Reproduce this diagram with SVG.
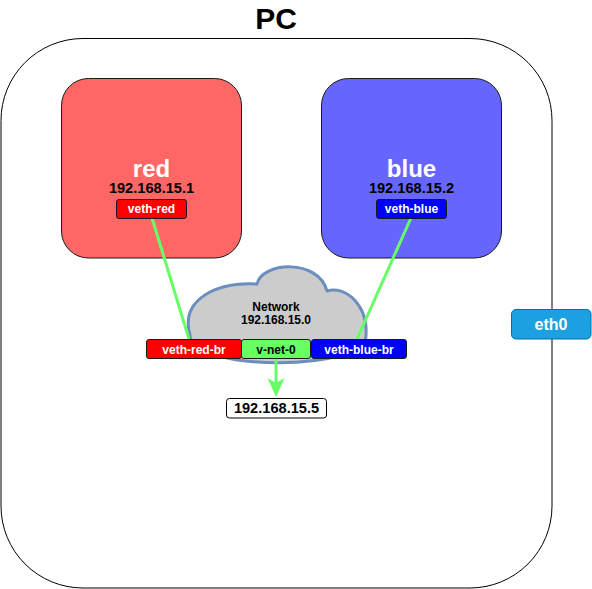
<svg xmlns="http://www.w3.org/2000/svg" width="592" height="589" viewBox="0 0 592 589">
<style>
text{font-family:"Liberation Sans",Arial,Helvetica,sans-serif;font-weight:bold;text-anchor:middle}
.w{fill:#ffffff}
.k{fill:#000000}
.lbl{stroke:#1a1a1a;stroke-width:1}
.wire{stroke:#66FF66;stroke-width:3;fill:none}
</style>
<defs>
<marker id="arr" viewBox="0 0 19 17" markerWidth="19" markerHeight="17" refX="10" refY="8.5" markerUnits="userSpaceOnUse" orient="auto">
<path d="M0,0 L19,8.5 L0,17 L5,8.5 Z" fill="#66FF66"/>
</marker>
</defs>
<rect width="592" height="589" fill="#ffffff"/>
<g id="pc">
<rect x="1" y="38.5" width="551" height="549.5" rx="82" ry="82" fill="#ffffff" stroke="#000000" stroke-width="1"/>
<text x="276" y="29" font-size="30" class="k">PC</text>
</g>
<g id="red">
<rect x="61.5" y="78.5" width="180" height="179.5" rx="27" ry="27" fill="#FF6666" stroke="#1a1a1a" stroke-width="1"/>
<text x="151.5" y="177" font-size="24" class="w">red</text>
<text x="151.5" y="193" font-size="14.6" class="k">192.168.15.1</text>
</g>
<g id="blue">
<rect x="321.5" y="78.5" width="180" height="179.5" rx="27" ry="27" fill="#6666FF" stroke="#1a1a1a" stroke-width="1"/>
<text x="411.5" y="177" font-size="24" class="w">blue</text>
<text x="411.5" y="193" font-size="14.6" class="k">192.168.15.2</text>
</g>
<g id="network">
<path d="M257,284 C262,262 318,258 327,291 C345,285 368,305 366,335 C368,372 190,372 190,335 C180,300 215,282 257,284 Z" fill="#CCCCCC" stroke="#6C8EBF" stroke-width="3" stroke-linejoin="round"/>
<text x="276" y="311" font-size="12" class="k">Network</text>
<text x="276" y="324" font-size="12" class="k">192.168.15.0</text>
</g>
<g id="connectors">
<line class="wire" x1="152" y1="218" x2="189" y2="339"/>
<line class="wire" x1="411" y1="218" x2="357" y2="339"/>
<line class="wire" x1="276" y1="358" x2="276" y2="388" marker-end="url(#arr)"/>
</g>
<g id="veth-red">
<rect x="116.5" y="199.5" width="70" height="19" rx="2.5" fill="#FF0000" class="lbl"/>
<text x="151.5" y="213" font-size="12" class="w">veth-red</text>
</g>
<g id="veth-blue">
<rect x="376.5" y="199.5" width="70" height="19" rx="2.5" fill="#0000FF" class="lbl"/>
<text x="411.5" y="213" font-size="12" class="w">veth-blue</text>
</g>
<g id="veth-red-br">
<rect x="146.5" y="339.5" width="95" height="19" rx="2.5" fill="#FF0000" class="lbl"/>
<text x="194" y="353.5" font-size="12" class="w">veth-red-br</text>
</g>
<g id="v-net-0">
<rect x="241.5" y="339.5" width="69" height="19" rx="2.5" fill="#66FF66" class="lbl"/>
<text x="276" y="353.5" font-size="12" class="k">v-net-0</text>
</g>
<g id="veth-blue-br">
<rect x="311.5" y="339.5" width="95" height="19" rx="2.5" fill="#0000FF" class="lbl"/>
<text x="359" y="353.5" font-size="12" class="w">veth-blue-br</text>
</g>
<g id="ip5">
<rect x="226.5" y="398.5" width="100" height="19.5" rx="3" fill="#ffffff" stroke="#000000" stroke-width="1"/>
<text x="276.5" y="413.3" font-size="14.6" class="k">192.168.15.5</text>
</g>
<g id="eth0">
<rect x="511.5" y="309.5" width="79.5" height="29.5" rx="4.5" fill="#1BA1E2" stroke="#006EAF" stroke-width="1"/>
<text x="551" y="329.5" font-size="16" class="w">eth0</text>
</g>
</svg>
